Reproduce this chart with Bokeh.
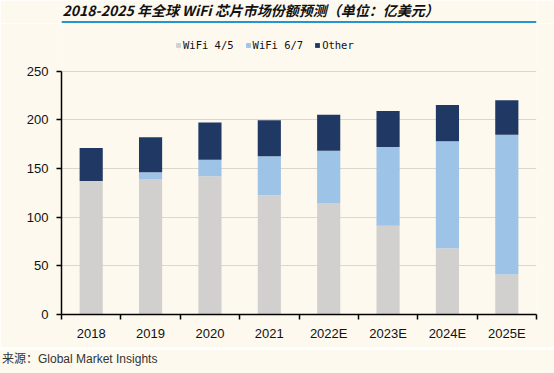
from bokeh.plotting import figure
from bokeh.layouts import column
from bokeh.models import (ColumnDataSource, FixedTicker, Legend, LegendItem, Div, Range1d,
                          Label, BoxAnnotation)
from bokeh.embed import file_html
from bokeh.resources import INLINE

years = ["2018", "2019", "2020", "2021", "2022E", "2023E", "2024E", "2025E"]
wifi45 = [137, 139, 142, 122.5, 114, 91, 68, 41]
wifi67 = [0, 7, 17, 40, 54, 81, 110, 143.5]
other = [34, 36, 38, 37, 37, 37, 37, 35.5]
series = ["WiFi 4/5", "WiFi 6/7", "Other"]
colors = ["#D2D0CE", "#9DC3E6", "#1F3864"]
yticks = [0, 50, 100, 150, 200, 250]
title_text = "2018-2025 年全球 WiFi 芯片市场份额预测（单位：亿美元）"
source_text = "来源：Global Market Insights"

BG = "#FDF9EE"
RULE = "#2196D3"
W = 554
H_HEAD, H_RULE, H_MAIN, H_FOOT = 23, 3, 324, 23
MAIN_TOP = H_HEAD


def rule_bar():
    f = figure(width=W, height=H_RULE, output_backend="svg", toolbar_location=None,
               x_range=Range1d(0, 1), y_range=Range1d(0, 1),
               x_axis_location=None, y_axis_location=None,
               background_fill_color=RULE, border_fill_color=RULE, min_border=0)
    f.grid.visible = False
    f.outline_line_color = None
    return f


# header: title + rule (svg figure)
head = figure(width=W, height=H_HEAD, output_backend="svg", toolbar_location=None,
              x_range=Range1d(0, 1), y_range=Range1d(0, H_HEAD),
              x_axis_location=None, y_axis_location=None,
              background_fill_color=BG, border_fill_color=BG, min_border=0)
head.grid.visible = False
head.outline_line_color = None
head.add_layout(Label(x=1, y=H_HEAD - 9.5, x_units="screen", text=title_text,
                      text_font="Noto Sans CJK SC", text_font_style="bold italic",
                      text_font_size="14px", text_color="#111111", text_baseline="middle"))
head.add_layout(BoxAnnotation(bottom=0, top=2.6, fill_color=RULE, fill_alpha=1,
                              line_color=None))

# main chart
xs = [i + 0.5 for i in range(len(years))]
src = ColumnDataSource(dict(x=xs, w45=wifi45, w67=wifi67, oth=other))

y_top = 250 * (314 - MAIN_TOP) / (314 - 70.5)
p = figure(width=W, height=H_MAIN, output_backend="svg", toolbar_location=None,
           x_range=Range1d(0, len(years)), y_range=Range1d(0, y_top),
           background_fill_color=BG, border_fill_color=BG,
           min_border_left=61, min_border_right=18, min_border_top=0,
           min_border_bottom=MAIN_TOP + H_MAIN - 314)
p.outline_line_color = None

rs = p.vbar_stack(["w45", "w67", "oth"], x="x", width=0.39, source=src,
                  color=colors, line_color=None)

xa = p.xaxis[0]
xa.ticker = FixedTicker(ticks=xs, minor_ticks=list(range(len(years) + 1)))
xa.major_label_overrides = {x: y for x, y in zip(xs, years)}
xa.major_tick_out = 0
xa.major_tick_in = 0
xa.minor_tick_out = 5
xa.minor_tick_in = 0
xa.minor_tick_line_color = "black"
xa.minor_tick_line_width = 1.5
xa.axis_line_color = "black"
xa.axis_line_width = 1.5
xa.major_label_text_font = "Liberation Sans"
xa.major_label_text_font_size = "13px"
xa.major_label_text_color = "#111111"
xa.major_label_standoff = 6

ya = p.yaxis[0]
ya.ticker = FixedTicker(ticks=yticks)
ya.bounds = (0, 250)
ya.major_tick_out = 5
ya.major_tick_in = 0
ya.minor_tick_out = 0
ya.minor_tick_in = 0
ya.axis_line_color = "black"
ya.axis_line_width = 1.5
ya.major_tick_line_width = 1.5
ya.major_label_text_font = "Liberation Sans"
ya.major_label_text_font_size = "13px"
ya.major_label_text_color = "#111111"
ya.major_label_standoff = 8

p.xgrid.grid_line_color = None
p.ygrid.ticker = FixedTicker(ticks=yticks)
p.ygrid.grid_line_color = "#DAD7D0"
p.ygrid.grid_line_width = 1

legend = Legend(items=[LegendItem(label=s, renderers=[r]) for s, r in zip(series, rs)],
                orientation="horizontal", location=(114, 314 - 51),
                glyph_width=6, glyph_height=6, label_standoff=2, spacing=11,
                padding=0, margin=0, border_line_color=None,
                background_fill_alpha=0,
                label_text_font="DejaVu Sans Mono", label_text_font_size="10.5px",
                label_text_color="#111111", label_height=12)
p.add_layout(legend, "center")

# footer source
foot = Div(width=W, height=H_FOOT, margin=0, styles={"background-color": BG}, text=(
    f'<div style="height:{H_FOOT}px;padding-left:2px;white-space:nowrap;'
    "font-family:'Liberation Sans','Noto Sans CJK SC',sans-serif;"
    f'font-size:12px;line-height:18px;color:#333333;">{source_text}</div>'))

layout = column(head, p, rule_bar(), foot, spacing=0)
open("out.html", "w").write(file_html(layout, INLINE))
